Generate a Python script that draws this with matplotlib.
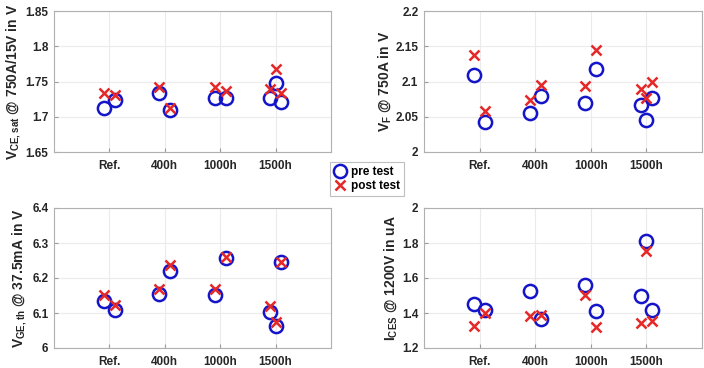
import numpy as np
import matplotlib
matplotlib.use("Agg")
import matplotlib.pyplot as plt

plt.rcParams['font.family'] = ['Liberation Sans', 'DejaVu Sans']
plt.rcParams['font.weight'] = 'bold'
plt.rcParams['mathtext.fontset'] = 'custom'
plt.rcParams['mathtext.rm'] = 'Liberation Sans:bold'
plt.rcParams['mathtext.bf'] = 'Liberation Sans:bold'

# categories and sample groups (index of category for each sample)
categorias = ["Ref.", "400h", "1000h", "1500h"]
grupo = [1, 1, 2, 2, 3, 3, 4, 4, 4]

# VCE,sat @ 750A/15V
vce_pre = [1.713, 1.724, 1.734, 1.710, 1.727, 1.727, 1.726, 1.748, 1.721]
vce_post = [1.733, 1.731, 1.742, 1.713, 1.742, 1.737, 1.739, 1.768, 1.733]

# VF @ 750A
vf_pre = [2.109, 2.042, 2.056, 2.079, 2.070, 2.118, 2.066, 2.046, 2.076]
vf_post = [2.138, 2.058, 2.074, 2.095, 2.094, 2.144, 2.090, 2.076, 2.100]

# VGE,th @ 37.5mA
vge_pre = [6.134, 6.108, 6.153, 6.221, 6.151, 6.258, 6.103, 6.063, 6.246]
vge_post = [6.151, 6.124, 6.169, 6.237, 6.168, 6.260, 6.121, 6.073, 6.245]

# ICES @ 1200V
ices_pre = [1.449, 1.419, 1.526, 1.365, 1.561, 1.410, 1.496, 1.810, 1.419]
ices_post = [1.326, 1.400, 1.381, 1.390, 1.503, 1.318, 1.345, 1.756, 1.357]

# spread the samples inside each group around the category tick
def posicoes(grupo, passo=0.1):
    x = []
    for g in grupo:
        n = grupo.count(g)
        k = len([v for v in x if round(v) == g])
        x.append(g + (k - (n - 1) / 2) * passo * (2 if n == 2 else 1))
    return np.array(x)

xs = posicoes(grupo)

azul = '#1414c8'
vermelho = '#e62828'

paineis = [
    (vce_pre, vce_post, r'V$_{\mathregular{CE,sat}}$ @ 750A/15V in V', (1.65, 1.85), [1.65, 1.7, 1.75, 1.8, 1.85], ['1.65', '1.7', '1.75', '1.8', '1.85']),
    (vf_pre, vf_post, r'V$_{\mathregular{F}}$ @ 750A in V', (2.0, 2.2), [2.0, 2.05, 2.1, 2.15, 2.2], ['2', '2.05', '2.1', '2.15', '2.2']),
    (vge_pre, vge_post, r'V$_{\mathregular{GE,th}}$ @ 37.5mA in V', (6.0, 6.4), [6.0, 6.1, 6.2, 6.3, 6.4], ['6', '6.1', '6.2', '6.3', '6.4']),
    (ices_pre, ices_post, r'I$_{\mathregular{CES}}$ @ 1200V in uA', (1.2, 2.0), [1.2, 1.4, 1.6, 1.8, 2.0], ['1.2', '1.4', '1.6', '1.8', '2']),
]

caixas = [
    [54 / 704, 1 - 152 / 368, 277 / 704, 141 / 368],
    [424 / 704, 1 - 152 / 368, 278 / 704, 141 / 368],
    [54 / 704, 1 - 348 / 368, 277 / 704, 140 / 368],
    [424 / 704, 1 - 348 / 368, 278 / 704, 140 / 368],
]

fig = plt.figure(figsize=(7.04, 3.68), dpi=100)

for (pre, post, rotulo, lim, ticks, tlabels), caixa in zip(paineis, caixas):
    ax = fig.add_axes(caixa)
    h1, = ax.plot(xs, pre, 'o', ms=9.5, mfc='none', mec=azul, mew=1.8, label='pre test')
    h2, = ax.plot(xs, post, 'x', ms=7, mec=vermelho, mew=1.8, label='post test')
    ax.set_xlim(0, 5)
    ax.set_ylim(*lim)
    ax.set_xticks([1, 2, 3, 4])
    ax.set_xticklabels(categorias)
    ax.set_yticks(ticks)
    ax.set_yticklabels(tlabels)
    ax.grid(True, color='#ebebeb', lw=0.8)
    ax.set_axisbelow(True)
    ax.tick_params(direction='in', length=3, color='#9a9a9a', labelsize=8.5,
                   labelcolor='#262626', pad=4)
    for s in ax.spines.values():
        s.set_color('#b0b0b0')
        s.set_linewidth(0.8)
    ax.set_ylabel(rotulo, fontsize=10, fontweight='bold', color='#262626', labelpad=2)
    for lab in ax.get_xticklabels() + ax.get_yticklabels():
        lab.set_fontweight('bold')
    ax.xaxis.set_tick_params(pad=6)

leg = fig.legend([h1, h2], ['pre test', 'post test'], loc='center',
                 bbox_to_anchor=(367 / 704, 1 - 179 / 368), fontsize=8.5,
                 frameon=True, fancybox=False, handlelength=1.0, handletextpad=0.5,
                 borderpad=0.3, labelspacing=0.2)
leg.get_frame().set_edgecolor('#b0b0b0')
leg.get_frame().set_linewidth(0.8)
for t in leg.get_texts():
    t.set_fontweight('bold')

fig.savefig('out.png', dpi=100)
